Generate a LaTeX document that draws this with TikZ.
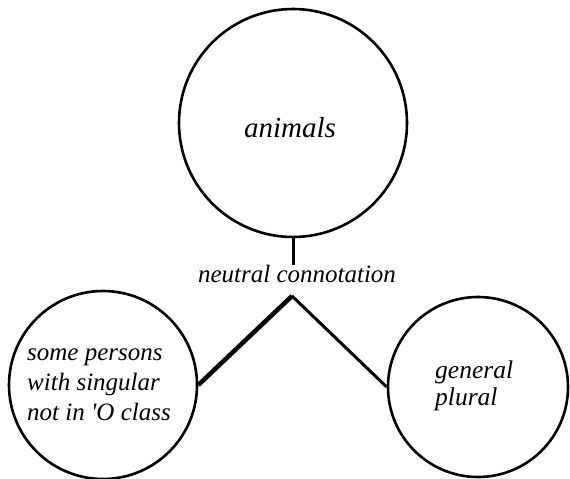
\documentclass[tikz,border=0pt]{standalone}
\usepackage{fontspec}
\setmainfont{Liberation Serif}
\begin{document}
\begin{tikzpicture}[x=1pt,y=-1pt,
  ring/.style={circle,draw,line width=2.6pt,inner sep=0pt},
  label/.style={font=\fontsize{25}{30}\selectfont\itshape,inner sep=0pt},
  link/.style={line width=3pt}]
\useasboundingbox (0,0) rectangle (570,479);
% the three classes
\node[ring,minimum size=228pt] (top) at (293,123) {};
\node[ring,minimum size=188pt] (left) at (103,385) {};
\node[ring,minimum size=180pt] (right) at (478,387) {};
% texts inside the circles
\node[label,font=\fontsize{29}{30}\selectfont\itshape] (tname) at (290,128) {animals};
\node[label,align=left,anchor=west,font=\fontsize{25}{30}\selectfont\itshape] (lname) at (27,385)
  {some persons\\with singular\\not in \textquotesingle O class};
\node[label,align=left,anchor=west,font=\fontsize{25.5}{27}\selectfont\itshape] (rname) at (435,386)
  {general\\plural};
% the shared connotation and its links
\node[label] (conn) at (297,274) {neutral connotation};
\coordinate (apex) at (292,296);
\draw[link] (top.south) -- (top.south |- conn.north);
\draw[link,line width=4.5pt] (apex) -- (left.east);
\draw[link] (apex) -- (right.west);
\end{tikzpicture}
\end{document}
